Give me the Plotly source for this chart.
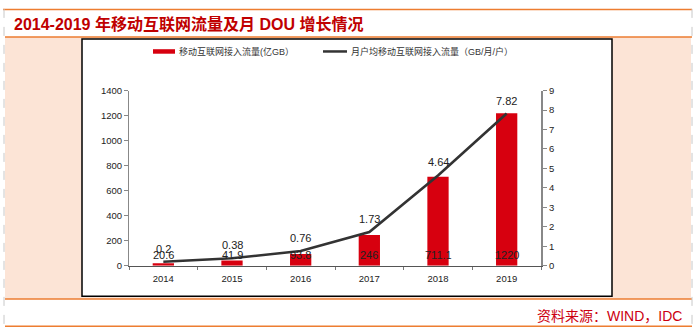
import plotly.graph_objects as go

years = ["2014", "2015", "2016", "2017", "2018", "2019"]
traffic = [20.6, 41.9, 93.8, 246, 711.1, 1220]          # 亿GB
dou = [0.2, 0.38, 0.76, 1.73, 4.64, 7.82]               # GB/月/户
traffic_labels = ["20.6", "41.9", "93.8", "246", "711.1", "1220"]
dou_labels = ["0.2", "0.38", "0.76", "1.73", "4.64", "7.82"]
left_ticks = [0, 200, 400, 600, 800, 1000, 1200, 1400]
right_ticks = [0, 1, 2, 3, 4, 5, 6, 7, 8, 9]

W, H = 698, 336
FONT = "Liberation Sans, Arial, Noto Sans CJK SC, sans-serif"
RED = "#D7000F"
LINE = "#333333"
ORANGE = "#ED7D31"
PINK = "#FCE4D6"


def px(x):
    return x / W


def py(y):
    return 1 - y / H


fig = go.Figure()
fig.add_trace(go.Bar(
    x=years, y=traffic, marker=dict(color=RED, line=dict(width=0)),
    width=0.31, yaxis="y", showlegend=False, hoverinfo="x+y",
))
fig.add_trace(go.Scatter(
    x=years, y=dou, mode="lines", line=dict(color=LINE, width=2.6),
    yaxis="y2", showlegend=False,
))

annotations = []
for i, (v, t) in enumerate(zip(traffic, traffic_labels)):
    annotations.append(dict(x=i, y=0, xref="x", yref="y", text=t, showarrow=False,
                            yshift=11, font=dict(size=11, color="#222222", family=FONT)))
for i, (v, t) in enumerate(zip(dou, dou_labels)):
    annotations.append(dict(x=i, y=v, xref="x", yref="y2", text=t, showarrow=False,
                            yshift=13, font=dict(size=11, color="#222222", family=FONT)))

# title
annotations.append(dict(x=px(12), y=py(19), xref="paper", yref="paper", xanchor="left",
                        yanchor="middle", showarrow=False,
                        text="<b>2014-2019 年移动互联网流量及月 DOU 增长情况</b>",
                        font=dict(size=16, color="#C00000", family=FONT)))
# source
annotations.append(dict(x=px(684), y=py(320), xref="paper", yref="paper", xanchor="right",
                        yanchor="middle", showarrow=False,
                        text="资料来源：WIND，IDC",
                        font=dict(size=14, color="#CC0010", family=FONT)))
# legend texts
annotations.append(dict(x=px(177), y=py(47), xref="paper", yref="paper", xanchor="left",
                        yanchor="middle", showarrow=False, text="移动互联网接入流量(亿GB）",
                        font=dict(size=9, color="#333333", family=FONT)))
annotations.append(dict(x=px(349), y=py(47), xref="paper", yref="paper", xanchor="left",
                        yanchor="middle", showarrow=False, text="月户均移动互联网接入流量（GB/月/户）",
                        font=dict(size=9, color="#333333", family=FONT)))

shapes = [
    # pink band
    dict(type="rect", xref="paper", yref="paper", x0=px(5), x1=px(691), y0=py(303), y1=py(32),
         fillcolor=PINK, line=dict(width=0), layer="below"),
    # inner white box
    dict(type="rect", xref="paper", yref="paper", x0=px(82), x1=px(612), y0=py(300), y1=py(34),
         fillcolor="white", line=dict(color="black", width=1.5), layer="below"),
    # orange lines
    dict(type="line", xref="paper", yref="paper", x0=px(3), x1=px(692), y0=py(3.5), y1=py(3.5),
         line=dict(color=ORANGE, width=1.5)),
    dict(type="line", xref="paper", yref="paper", x0=px(5), x1=px(692), y0=py(32), y1=py(32),
         line=dict(color=ORANGE, width=1.5)),
    dict(type="line", xref="paper", yref="paper", x0=px(5), x1=px(692), y0=py(303), y1=py(303),
         line=dict(color=ORANGE, width=1.5)),
    dict(type="line", xref="paper", yref="paper", x0=px(5), x1=px(692), y0=py(331), y1=py(331),
         line=dict(color=ORANGE, width=1.5)),
    # dashed side lines
    dict(type="line", xref="paper", yref="paper", x0=px(4), x1=px(4), y0=py(3), y1=py(336),
         line=dict(color="#C8C8C8", width=1, dash="dash")),
    dict(type="line", xref="paper", yref="paper", x0=px(692), x1=px(692), y0=py(3), y1=py(336),
         line=dict(color="#C8C8C8", width=1, dash="dash")),
    # legend swatches
    dict(type="line", xref="paper", yref="paper", x0=px(153), x1=px(175), y0=py(47), y1=py(47),
         line=dict(color=RED, width=4.5)),
    dict(type="line", xref="paper", yref="paper", x0=px(323), x1=px(347), y0=py(47), y1=py(47),
         line=dict(color=LINE, width=2.5)),
]

fig.update_layout(
    width=W, height=H,
    margin=dict(l=0, r=0, t=0, b=0),
    paper_bgcolor="white", plot_bgcolor="rgba(0,0,0,0)",
    font=dict(family=FONT, size=10, color="#333333"),
    xaxis=dict(domain=[px(129), px(541)], type="category", range=[-0.5, len(years) - 0.5],
               showline=True, linecolor="#555555", linewidth=1, ticks="outside",
               tickson="boundaries", ticklen=3, tickcolor="#777777", showgrid=False,
               zeroline=False, tickangle=0, ticklabelstandoff=4,
               tickfont=dict(size=9.5, color="#222222")),
    yaxis=dict(domain=[py(268.5), py(87.5)], range=[0, 1400], tickvals=left_ticks,
               showline=True, linecolor="#888888", linewidth=1, ticks="outside",
               ticklen=4, tickcolor="#888888", showgrid=False, zeroline=False,
               tickfont=dict(size=9.5, color="#222222")),
    yaxis2=dict(overlaying="y", side="right", anchor="x", range=[0, 9], tickvals=right_ticks,
                showline=True, linecolor="#888888", linewidth=2, ticks="outside",
                ticklen=4, tickcolor="#888888", showgrid=False, zeroline=False,
                tickfont=dict(size=9.5, color="#222222")),
    annotations=annotations,
    shapes=shapes,
)

fig.write_html("out.html")
